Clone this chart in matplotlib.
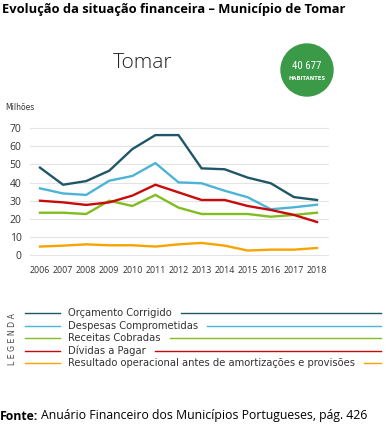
import matplotlib
matplotlib.use("Agg")
import matplotlib.pyplot as plt
from matplotlib.lines import Line2D
from matplotlib.patches import Circle

years = list(range(2006, 2019))
orcamento = [48.2, 38.8, 40.8, 46.5, 58.4, 66.1, 66.1, 47.8, 47.3, 42.7, 39.6, 32.0, 30.4]
despesas = [36.8, 34.0, 33.2, 41.0, 43.6, 50.7, 40.1, 39.6, 35.5, 31.9, 25.3, 26.4, 27.8]
receitas = [23.4, 23.4, 22.7, 30.0, 27.1, 33.2, 26.2, 22.7, 22.7, 22.7, 21.2, 22.2, 23.4]
dividas = [30.0, 29.1, 27.7, 29.1, 32.8, 38.8, 34.6, 30.4, 30.4, 27.1, 24.9, 22.2, 18.3]
resultado = [4.8, 5.3, 6.0, 5.5, 5.5, 4.8, 6.0, 6.8, 5.3, 2.6, 3.1, 3.1, 4.0]

labels = ["Orçamento Corrigido", "Despesas Comprometidas", "Receitas Cobradas",
          "Dívidas a Pagar", "Resultado operacional antes de amortizações e provisões"]
colors = ["#1f5766", "#4cb4d6", "#80bd1e", "#c80a0a", "#f7a400"]
series = [orcamento, despesas, receitas, dividas, resultado]

W, H = 386, 438
fig = plt.figure(figsize=(W / 100, H / 100), dpi=100)
fig.patch.set_facecolor("white")

def fx(x):
    return x / W

def fy(y):
    return 1 - y / H

ax = fig.add_axes([fx(30), fy(262), fx(329) - fx(30), fy(124) - fy(262)])
for vals, c in zip(series, colors):
    ax.plot(years, vals, color=c, lw=1.7, solid_joinstyle="miter")
ax.set_xlim(2005.567, 2018.52)
ax.set_ylim(-3.7, 72.2)
ax.set_yticks(range(0, 71, 10))
ax.set_xticks(years)
ax.grid(axis="y", color="#e3e3e3", lw=0.8)
ax.set_axisbelow(True)
for s in ax.spines.values():
    s.set_visible(False)
ax.tick_params(length=0, colors="#333333")
ax.tick_params(axis="y", labelsize=7.5, pad=6)
ax.tick_params(axis="x", labelsize=6.4, pad=3)
for lab in ax.get_xticklabels() + ax.get_yticklabels():
    lab.set_family("Open Sans")

# titles
fig.text(fx(2), fy(10), "Evolução da situação financeira – Município de Tomar",
         fontsize=9.3, fontweight="bold", family="Open Sans", va="center", ha="left")
fig.text(fx(143), fy(63), "Tomar", fontsize=15, family="Open Sans", color="#222222",
         va="center", ha="center", fontweight="light")
fig.text(fx(5), fy(107), "Milhões", fontsize=5.5, color="#333333", va="center")

circ = Circle((307, H - 70), 26, transform=None, color="#3a9a47")
fig.add_artist(circ)
fig.text(fx(307), fy(66), "40 677", fontsize=7.8, color="white", ha="center", va="center",
         family="Roboto Condensed")
fig.text(fx(307), fy(78), "HABITANTES", fontsize=3.8, color="white", ha="center",
         va="center", fontweight="bold")

# legend
fig.text(fx(13), fy(339), "L E G E N D A", rotation=90, fontsize=5.6, color="#444444",
         ha="center", va="center", family="DejaVu Sans")
rows = [313, 326, 338, 351, 363]
texts = []
for y, lab, c in zip(rows, labels, colors):
    fig.add_artist(Line2D([fx(25), fx(60)], [fy(y), fy(y)], color=c, lw=1.0))
    t = fig.text(fx(68), fy(y), lab, fontsize=7.2, color="#333333", va="center",
                 family="DejaVu Sans")
    texts.append((t, y, c))

fig.canvas.draw()
r = fig.canvas.get_renderer()
for t, y, c in texts:
    x1 = t.get_window_extent(r).x1
    fig.add_artist(Line2D([fx(x1 + 9), fx(381)], [fy(y), fy(y)], color=c, lw=1.0))

# source
ft = fig.text(fx(0), fy(416), "Fonte:", fontsize=8.8, fontweight="bold", va="center",
              family="Open Sans")
fig.canvas.draw()
x1 = ft.get_window_extent(r).x1
fig.text(fx(x1 + 3), fy(416), "Anuário Financeiro dos Municípios Portugueses, pág. 426",
         fontsize=8.8, va="center", family="Open Sans")

fig.savefig("out.png", dpi=100)
